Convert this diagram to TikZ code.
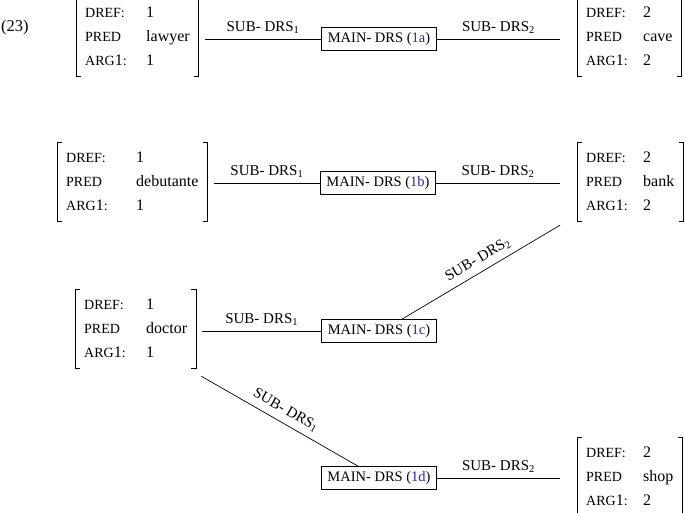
\documentclass[tikz,border=0pt]{standalone}
\usepackage{fontspec}
\setmainfont{Liberation Serif}
\usetikzlibrary{calc}
\definecolor{refblue}{RGB}{30,40,200}
\newcommand\ky[1]{{\fontsize{14}{14}\selectfont #1}}
\newcommand\avmbody[4][60pt]{\fontsize{16}{24}\selectfont\begin{tabular}{@{}l@{}l@{}}\makebox[#1][l]{\ky{DREF:}} & #2\\ \makebox[#1][l]{\ky{PRED}} & #3\\ \makebox[#1][l]{\ky{ARG}1\ky{:}} & #4\end{tabular}}
\tikzset{
  avm/.style={inner xsep=9pt, inner ysep=3pt, anchor=west},
  brk/.style={line width=0.9pt},
  mainbox/.style={draw, line width=0.7pt, minimum width=115pt, minimum height=23pt, inner sep=2pt, font=\fontsize{14.5}{15}\selectfont},
  lbl/.style={font=\fontsize{15}{15}\selectfont, inner sep=2pt},
  conn/.style={line width=0.7pt}
}
\begin{document}
\begin{tikzpicture}[x=1pt,y=-1pt]
\useasboundingbox (0,0) rectangle (685,513);
\node[font=\fontsize{16.5}{17}\selectfont, anchor=west, inner sep=0pt] (ex) at (1,28) {(23)};
% row 1
\node[avm] (m1) at (76,37) {\avmbody[61pt]{1}{lawyer}{1}};
\node[mainbox] (b1) at (379,39) {MAIN- DRS (\textcolor{refblue}{1a})};
\node[avm] (m2) at (577,37) {\avmbody[57pt]{2}{cave}{2}};
% row 2
\node[avm] (m3) at (57,182) {\avmbody[70pt]{1}{debutante}{1}};
\node[mainbox] (b2) at (378,183) {MAIN- DRS (\textcolor{refblue}{1b})};
\node[avm] (m4) at (577,182) {\avmbody[57pt]{2}{bank}{2}};
% row 3
\node[avm] (m5) at (75,329) {\avmbody[62pt]{1}{doctor}{1}};
\node[mainbox] (b3) at (379,331) {MAIN- DRS (\textcolor{refblue}{1c})};
% row 4
\node[mainbox] (b4) at (379,478) {MAIN- DRS (\textcolor{refblue}{1d})};
\node[avm] (m6) at (577,477) {\avmbody[57pt]{2}{shop}{2}};
% brackets
\foreach \n in {m1,m2,m3,m4,m5,m6}{
  \draw[brk] ([xshift=5pt]\n.north west) -- (\n.north west) -- (\n.south west) -- ([xshift=5pt]\n.south west);
  \draw[brk] ([xshift=-5pt]\n.north east) -- (\n.north east) -- (\n.south east) -- ([xshift=-5pt]\n.south east);
}
% connector ends
\coordinate (m1r) at ([xshift=6pt]m1.east);
\coordinate (m2l) at ([xshift=-17pt]m2.west);
\coordinate (m3r) at ([xshift=6pt]m3.east);
\coordinate (m4l) at ([xshift=-17pt]m4.west);
\coordinate (m5r) at ([xshift=6pt]m5.east);
\coordinate (m6l) at ([xshift=-17pt]m6.west);
\coordinate (m4d) at ([xshift=-17pt,yshift=-4pt]m4.south west);
\coordinate (m5d) at ([xshift=5pt,yshift=-8pt]m5.south east);
% connectors
\draw[conn] (m1r |- b1.west) -- node[lbl, above=3pt]{SUB- DRS\textsubscript{1}} (b1.west);
\draw[conn] (b1.east) -- node[lbl, above=3pt]{SUB- DRS\textsubscript{2}} (m2l |- b1.east);
\draw[conn] (m3r |- b2.west) -- node[lbl, above=3pt]{SUB- DRS\textsubscript{1}} (b2.west);
\draw[conn] (b2.east) -- node[lbl, above=3pt]{SUB- DRS\textsubscript{2}} (m4l |- b2.east);
\draw[conn] (m5r |- b3.west) -- node[lbl, above=3pt]{SUB- DRS\textsubscript{1}} (b3.west);
\draw[conn] ([xshift=23pt]b3.north) -- node[lbl, sloped, above=4pt, pos=0.52]{SUB- DRS\textsubscript{2}} (m4d);
\draw[conn] (m5d) -- node[lbl, sloped, above=4pt, pos=0.5]{SUB- DRS\textsubscript{1}} ([xshift=-21pt]b4.north);
\draw[conn] (b4.east) -- node[lbl, above=3pt]{SUB- DRS\textsubscript{2}} (m6l |- b4.east);
\end{tikzpicture}
\end{document}
